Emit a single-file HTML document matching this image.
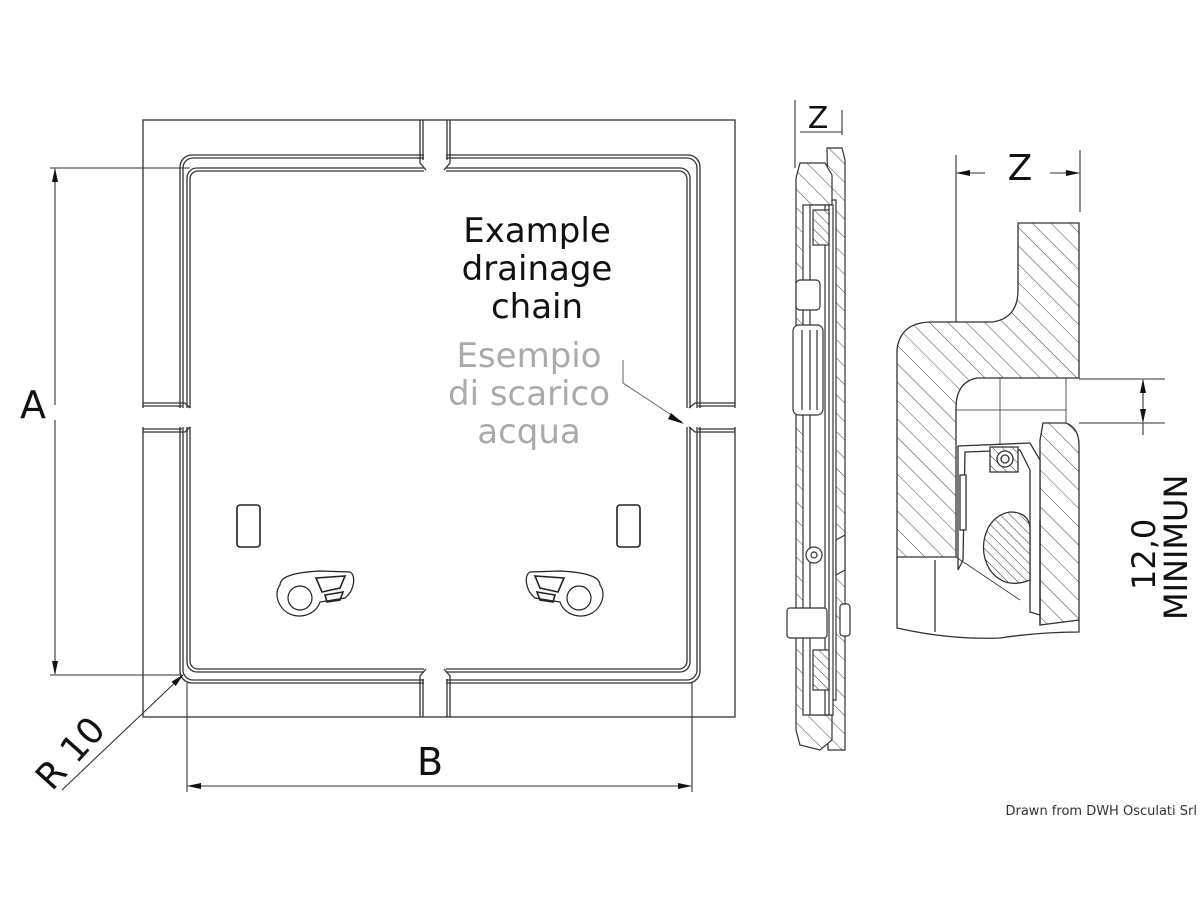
<!DOCTYPE html>
<html><head><meta charset="utf-8"><style>
html,body{margin:0;padding:0;background:#fff;}
svg{display:block;}
text{font-family:"DejaVu Sans","Liberation Sans",sans-serif;}
</style></head><body>
<svg width="1200" height="900" viewBox="0 0 1200 900" xmlns="http://www.w3.org/2000/svg">
<defs>
<pattern id="h" width="13" height="13" patternUnits="userSpaceOnUse" patternTransform="rotate(-45)">
<rect width="13" height="13" fill="#fff"/><line x1="0" y1="0" x2="0" y2="13" stroke="#444" stroke-width="1"/>
</pattern>
<pattern id="h2" width="7" height="7" patternUnits="userSpaceOnUse" patternTransform="rotate(-45)">
<rect width="7" height="7" fill="#fff"/><line x1="0" y1="0" x2="0" y2="7" stroke="#333" stroke-width="1"/>
</pattern>
<marker id="ar" markerWidth="14" markerHeight="8" refX="13" refY="4" orient="auto" markerUnits="userSpaceOnUse">
<path d="M0,1 L14,4 L0,7 Z" fill="#111"/></marker>
</defs>
<g fill="none" stroke="#333" stroke-width="1.3">
<rect x="143" y="120" width="592" height="597"/>
<rect x="180" y="155" width="520" height="528" rx="12"/>
<rect x="183" y="158" width="514" height="522" rx="10"/>
<rect x="187" y="168" width="503" height="504" rx="10"/>
<rect x="190" y="171" width="497" height="498" rx="8"/>
</g>
<g fill="#fff" stroke="none">
<rect x="424" y="150" width="22" height="24"/>
<rect x="424" y="666" width="22" height="24"/>
<rect x="138" y="408" width="55" height="19"/>
<rect x="684" y="408" width="55" height="19"/>
</g>
<g fill="none" stroke="#333" stroke-width="1.3">
<path d="M420,120 V163 L426,170 M423,120 V160 M450,120 V163 L444,170 M447,120 V160"/>
<path d="M420,717 V676 L426,669 M423,717 V679 M450,717 V676 L444,669 M447,717 V679"/>
<path d="M143,403 H185 L190,408 M143,406 H182 M143,432 H185 L190,427 M143,429 H182"/>
<path d="M735,403 H695 L689,408 M735,406 H698 M735,432 H695 L689,427 M735,429 H698"/>
</g>
<g fill="none" stroke="#222" stroke-width="1.6">
<rect x="237" y="505" width="23" height="42" rx="3"/>
<rect x="617" y="505" width="23" height="42" rx="3"/>
<path d="M280,585 C280,575 300,572 320,571 L350,572 C356,575 355,590 345,598 L320,602 C315,618 290,622 280,605 C276,598 276,590 280,585 Z" stroke-width="1.2"/>
<circle cx="300" cy="598" r="12" stroke-width="1.2"/>
<path d="M316,578 L345,576 L340,588 L322,592 Z M325,595 L343,592 L340,600 L327,602 Z"/>
<path d="M600,585 C600,575 580,572 560,571 L530,572 C524,575 525,590 535,598 L560,602 C565,618 590,622 600,605 C604,598 604,590 600,585 Z" stroke-width="1.2"/>
<circle cx="579" cy="598" r="12" stroke-width="1.2"/>
<path d="M564,578 L535,576 L540,588 L558,592 Z M555,595 L537,592 L540,600 L553,602 Z"/>
</g>
<g stroke="#333" stroke-width="1.1" fill="none">
<line x1="50" y1="168" x2="190" y2="168"/>
<line x1="50" y1="675" x2="182" y2="675"/>
<line x1="55" y1="405" x2="55" y2="169" marker-end="url(#ar)"/>
<line x1="55" y1="420" x2="55" y2="674" marker-end="url(#ar)"/>
<line x1="187" y1="683" x2="187" y2="792"/>
<line x1="692" y1="683" x2="692" y2="792"/>
<line x1="430" y1="786" x2="188" y2="786" marker-end="url(#ar)"/>
<line x1="430" y1="786" x2="691" y2="786" marker-end="url(#ar)"/>
<line x1="62" y1="790" x2="183" y2="675" marker-end="url(#ar)"/>
</g>
<text x="33" y="418" font-size="38" text-anchor="middle" fill="#111">A</text>
<text x="430" y="775" font-size="38" text-anchor="middle" fill="#111">B</text>
<text x="0" y="0" font-size="36" fill="#111" transform="translate(52,792) rotate(-48)">R 10</text>
<g font-size="34" text-anchor="middle" fill="#111">
<text x="537" y="242">Example</text>
<text x="537" y="280">drainage</text>
<text x="537" y="318">chain</text>
</g>
<g font-size="34" text-anchor="middle" fill="#aaa">
<text x="529" y="367">Esempio</text>
<text x="529" y="405">di scarico</text>
<text x="529" y="443">acqua</text>
</g>
<polyline points="623,360 623,383 682,422" fill="none" stroke="#666" stroke-width="1"/>
<path d="M671,413 L684,424 L668,419 Z" fill="#111"/>

<g stroke="#333" stroke-width="1.1" fill="none">
<line x1="795" y1="100" x2="795" y2="168"/>
<line x1="842" y1="110" x2="842" y2="135"/>
<line x1="800" y1="132" x2="842" y2="132"/>
</g>
<text x="818" y="128" font-size="30" text-anchor="middle" fill="#111">Z</text>
<g stroke="#333" stroke-width="1.2">
<path d="M827,148 L842,148 L845,160 L845,750 L828,750 L828,700 L836,700 L836,200 L828,200 Z" fill="url(#h)"/>
<path d="M800,163 L825,163 L832,175 L832,205 L812,205 L812,715 L832,715 L832,740 L820,750 L800,745 L796,730 L796,178 Z" fill="url(#h)"/>
<rect x="803" y="205" width="30" height="510" fill="#fff"/>
<line x1="810" y1="205" x2="810" y2="715"/>
<line x1="825" y1="205" x2="825" y2="715"/>
<line x1="829" y1="205" x2="829" y2="715"/>
<rect x="813" y="210" width="16" height="35" fill="url(#h2)"/>
<rect x="813" y="650" width="16" height="40" fill="url(#h2)"/>
<rect x="796" y="280" width="24" height="30" rx="4" fill="#fff"/>
<rect x="793" y="325" width="30" height="90" rx="6" fill="#fff"/>
<line x1="802" y1="330" x2="802" y2="410"/><line x1="810" y1="330" x2="810" y2="410"/><line x1="817" y1="330" x2="817" y2="410"/>
<circle cx="814" cy="555" r="8" fill="#fff"/><circle cx="814" cy="555" r="3" fill="#fff"/>
<path d="M836,540 L845,535 L845,570 L836,575 Z" fill="#fff"/>
<rect x="787" y="608" width="40" height="30" rx="3" fill="#fff"/>
<rect x="840" y="604" width="10" height="32" rx="3" fill="#fff"/>
</g>

<g stroke="#333" stroke-width="1.1" fill="none">
<line x1="956" y1="155" x2="956" y2="420"/>
<line x1="1080" y1="150" x2="1080" y2="212"/>
<line x1="985" y1="173" x2="957" y2="173" marker-end="url(#ar)"/>
<line x1="1050" y1="173" x2="1079" y2="173" marker-end="url(#ar)"/>
<line x1="1079" y1="379" x2="1165" y2="379"/>
<line x1="1079" y1="423" x2="1165" y2="423"/>
<line x1="1143" y1="401" x2="1143" y2="380" marker-end="url(#ar)"/>
<line x1="1143" y1="401" x2="1143" y2="422" marker-end="url(#ar)"/>
<line x1="1143" y1="423" x2="1143" y2="435"/>
</g>
<text x="1020" y="180" font-size="36" text-anchor="middle" fill="#111">Z</text>
<g stroke="#333" stroke-width="1.3">
<path d="M1018,223 L1079,223 L1079,378 L977,378 Q956,382 956,408 L956,557 L897,557 L897,350 Q900,322 932,322 L993,322 Q1018,318 1018,290 Z" fill="url(#h)"/>
<path d="M1043,423 L1066,423 Q1079,428 1079,445 L1079,620 L1040,625 L1040,440 Z" fill="url(#h)"/>
<path d="M958,446 L1030,443 L1040,460 L1040,615 L1030,612 L1030,470 L1020,450 L965,452 L963,560 L958,570 Z" fill="#fff"/>
<rect x="990" y="447" width="28" height="25" fill="url(#h2)"/>
<circle cx="1005" cy="459" r="8" fill="#fff"/><circle cx="1005" cy="459" r="4" fill="#fff"/>
<path d="M1010,512 Q1030,512 1030,530 L1030,580 Q1005,590 990,570 Q978,550 988,528 Q996,514 1010,512 Z" fill="url(#h2)"/>
<rect x="960" y="475" width="6" height="55" fill="#fff"/>
<line x1="1040" y1="520" x2="1040" y2="625"/>
<path d="M897,557 L897,628 Q950,640 1000,638 Q1040,632 1079,632 L1079,620" fill="none"/>
<line x1="935" y1="560" x2="935" y2="632"/>
<line x1="956" y1="557" x2="1020" y2="600" stroke-width="0.8"/>
</g>
<g stroke="#333" stroke-width="0.8">
<line x1="1000" y1="378" x2="1000" y2="445"/>
<line x1="956" y1="410" x2="1066" y2="410"/>
<line x1="1066" y1="378" x2="1066" y2="423"/>
</g>
<text transform="translate(1155,590) rotate(-90)" font-size="32" fill="#111">12,0</text>
<text transform="translate(1187,620) rotate(-90)" font-size="32" fill="#111">MINIMUN</text>
<text x="1197" y="815" font-size="13" text-anchor="end" fill="#333" font-family="Liberation Sans, sans-serif">Drawn from DWH Osculati Srl</text>
</svg>
</body></html>
